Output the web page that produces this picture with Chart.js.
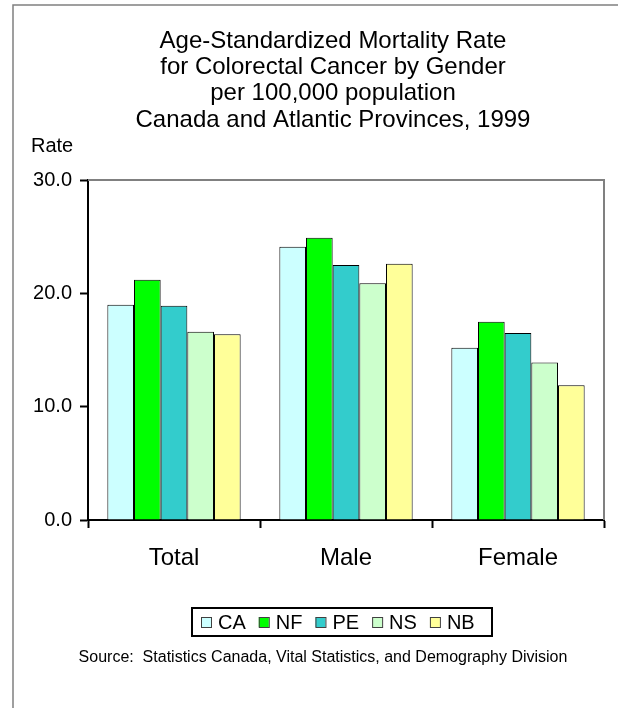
<!DOCTYPE html>
<html>
<head>
<meta charset="utf-8">
<script src="https://cdn.jsdelivr.net/npm/chart.js@4/dist/chart.umd.min.js"></script>
<style>
  html, body { margin: 0; padding: 0; background: #ffffff; }
  #wrap { width: 618px; height: 708px; position: relative; }
</style>
</head>
<body>
<div id="wrap"><canvas id="c" width="618" height="708"></canvas></div>
<script>
// ---- Data ----
const categories = ['Total', 'Male', 'Female'];
const seriesNames = ['CA', 'NF', 'PE', 'NS', 'NB'];
const CA = [19.0, 24.1, 15.2];
const NF = [21.2, 24.9, 17.5];
const PE = [18.9, 22.5, 16.5];
const NS = [16.6, 20.9, 13.9];
const NB = [16.4, 22.6, 11.9];
const yTickValues = [0, 10, 20, 30];
const titleLines = [
  'Age-Standardized Mortality Rate',
  'for Colorectal Cancer by Gender',
  'per 100,000 population',
  'Canada and Atlantic Provinces, 1999'
];
const yAxisLabel = 'Rate';
const sourceText = 'Source:  Statistics Canada, Vital Statistics, and Demography Division';

// ---- Styles ----
const seriesColors = ['#CCFFFF', '#00FF00', '#33CCCC', '#CCFFCC', '#FFFF99'];
const FONT = '"Liberation Sans", Arial, sans-serif';
const seriesValues = [CA, NF, PE, NS, NB];

const datasets = seriesNames.map((name, i) => ({
  label: name,
  data: seriesValues[i],
  backgroundColor: seriesColors[i],
  borderColor: '#000000',
  borderWidth: 1,
  borderSkipped: 'bottom',
  categoryPercentage: 0.775,
  barPercentage: 1.0
}));

const decorPlugin = {
  id: 'decor',
  beforeDraw(chart) {
    const ctx = chart.ctx;
    ctx.save();
    ctx.fillStyle = '#ffffff';
    ctx.fillRect(0, 0, chart.width, chart.height);
    // outer frame (left and top only visible)
    ctx.strokeStyle = '#808080';
    ctx.lineWidth = 1.5;
    ctx.beginPath();
    ctx.moveTo(13, 708);
    ctx.lineTo(13, 5);
    ctx.lineTo(620, 5);
    ctx.stroke();
    ctx.restore();
  },
  beforeDatasetsDraw(chart) {
    const ctx = chart.ctx;
    const a = chart.chartArea;
    ctx.save();
    ctx.strokeStyle = '#808080';
    ctx.lineWidth = 2;
    ctx.beginPath();
    ctx.moveTo(a.left, a.top);
    ctx.lineTo(a.right, a.top);
    ctx.lineTo(a.right, a.bottom);
    ctx.stroke();
    ctx.restore();
  },
  afterDraw(chart) {
    const ctx = chart.ctx;
    ctx.save();
    ctx.fillStyle = '#000000';
    // title
    ctx.font = '24px ' + FONT;
    ctx.textAlign = 'center';
    ctx.textBaseline = 'middle';
    titleLines.forEach((t, i) => ctx.fillText(t, 333, 41 + i * 26.3));
    // axis label
    ctx.font = '20px ' + FONT;
    ctx.textAlign = 'left';
    ctx.fillText(yAxisLabel, 31, 146);
    // legend
    const boxL = 192, boxR = 492, boxT = 608, boxB = 636;
    ctx.lineWidth = 2;
    ctx.strokeStyle = '#000000';
    ctx.strokeRect(boxL, boxT, boxR - boxL, boxB - boxT);
    ctx.font = '20px ' + FONT;
    ctx.textBaseline = 'middle';
    let x = 201;
    const cy = 622;
    chart.data.datasets.forEach((ds) => {
      ctx.fillStyle = ds.backgroundColor;
      ctx.fillRect(x, cy - 5, 10, 10);
      ctx.lineWidth = 1;
      ctx.strokeStyle = '#404040';
      ctx.strokeRect(x + 0.5, cy - 4.5, 10, 10);
      x += 17;
      ctx.fillStyle = '#000000';
      ctx.fillText(ds.label, x, cy + 1);
      x += ctx.measureText(ds.label).width + 13;
    });
    // source
    ctx.font = '16px ' + FONT;
    ctx.textAlign = 'center';
    ctx.fillText(sourceText, 323, 658);
    ctx.restore();
  }
};

new Chart(document.getElementById('c'), {
  type: 'bar',
  data: { labels: categories, datasets: datasets },
  options: {
    responsive: false,
    animation: false,
    devicePixelRatio: 1,
    layout: { padding: { left: 0, right: 14, top: 180, bottom: 0 } },
    plugins: {
      legend: { display: false },
      title: { display: false },
      tooltip: { enabled: false }
    },
    scales: {
      x: {
        grid: {
          display: true,
          offset: true,
          drawOnChartArea: false,
          drawTicks: true,
          tickLength: 8,
          tickWidth: 2,
          tickColor: '#000000'
        },
        border: { display: true, color: '#000000', width: 2 },
        ticks: {
          color: '#000000',
          font: { family: FONT, size: 24 },
          padding: 16,
          maxRotation: 0
        },
        afterFit(scale) { scale.height = 188; }
      },
      y: {
        min: 0,
        max: 30,
        afterBuildTicks(scale) { scale.ticks = yTickValues.map(v => ({ value: v })); },
        grid: {
          display: true,
          drawOnChartArea: false,
          drawTicks: true,
          tickLength: 8,
          tickWidth: 2,
          tickColor: '#000000'
        },
        border: { display: true, color: '#000000', width: 2 },
        ticks: {
          color: '#000000',
          font: { family: FONT, size: 20 },
          padding: 8,
          callback: (v) => Number(v).toFixed(1)
        },
        afterFit(scale) { scale.width = 88; }
      }
    }
  },
  plugins: [decorPlugin]
});
</script>
</body>
</html>
